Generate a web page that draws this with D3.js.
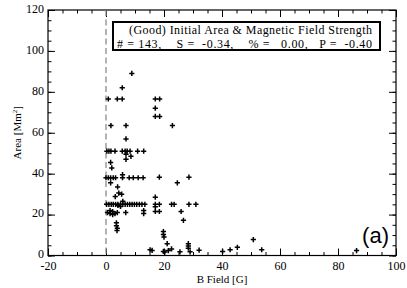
<!DOCTYPE html>
<html>
<head>
<meta charset="utf-8">
<script src="https://cdn.jsdelivr.net/npm/d3@7"></script>
<style>
  html, body { margin: 0; padding: 0; background: #fff; }
  svg { display: block; }
</style>
</head>
<body>
<svg id="chart" width="407" height="288"></svg>
<script>
// ---- data ----
const bField = [
  8.9, 5.6, 0.8, 3.9, 5.6, 17.0, 18.5, 17.0, 17.0, 18.5, 22.9, 1.7, 6.9, 6.9,
  0.3, 1.0, 1.7, 3.1, 5.6, 6.6, 7.3, 8.3, 10.9, 13.0, 6.9, 8.6, 6.9, 1.6, 2.0,
  0.0, 0.8, 1.6, 2.5, 3.3, 5.7, 5.7, 8.0, 9.4, 11.1, 12.8, 18.4, 28.6, 1.6, 24.6,
  4.0, 3.2, 4.4, 5.4, 17.0,
  0.2, 1.0, 1.8, 2.5, 3.3, 4.1, 5.0, 5.8, 6.6, 7.4, 8.2, 9.0, 9.8, 10.6, 11.5, 12.4,
  5.0, 5.8, 4.1, 13.4, 17.0, 18.4, 17.0, 22.6, 23.5, 28.6, 31.0,
  0.5, 1.4, 2.3, 3.1, 3.9, 1.4, 2.3, 6.8, 13.0, 13.0, 17.0, 18.4, 25.9, 26.7,
  3.6, 3.6, 3.9, 3.8,
  19.8, 19.8, 20.0, 21.1, 15.2, 15.9, 19.8, 20.3, 21.5, 22.6, 25.5,
  28.4, 28.4, 28.4, 29.0, 32.1, 40.2, 42.8, 45.3, 50.8, 53.7, 86.4
];
const area = [
  89, 82, 76.5, 76.5, 76.5, 76.5, 76.5, 72, 68, 68, 63.5, 63.5, 63.5, 57,
  51, 51, 51, 51, 51, 51, 51, 51, 51, 51, 49.5, 48.5, 47, 45.5, 42.8,
  38, 38, 38, 38, 38, 39.5, 38, 38, 38, 38, 38, 38.3, 38.3, 35.5, 35.5,
  33.5, 28.8, 30.5, 30, 28.5,
  25, 25, 25, 25, 25, 25, 25, 25, 25, 25, 25, 25, 25, 25, 25, 25,
  24, 26.5, 24.5, 25, 25, 25, 23.8, 25, 25, 25, 25,
  21, 20.5, 21.5, 20.5, 21, 22, 20, 21, 22, 20.5, 21.5, 21.5, 21.5, 17.2,
  16, 14.5, 13.3, 12.2,
  11.7, 10.3, 9.0, 5.8, 2.8, 2.5, 2.0, 1.7, 2.4, 3.2, 1.8,
  5.8, 4.6, 3.6, 1.8, 2.6, 2.0, 2.8, 4.0, 7.8, 2.8, 2.4
];
const xTicks = [-20, 0, 20, 40, 60, 80, 100];
const yTicks = [0, 20, 40, 60, 80, 100, 120];
const titleText = "(Good) Initial Area & Magnetic Field Strength";
const statsText = "# = 143,    S =  -0.34,    % =   0.00,   P =  -0.40";
const panelLabel = "(a)";

// ---- layout ----
const L = 48, R = 396, T = 10, B = 255.5;
const svg = d3.select("#chart");
const x = d3.scaleLinear().domain([-20, 100]).range([L, R]);
const y = d3.scaleLinear().domain([0, 120]).range([B, T]);
const serif = "'Liberation Serif', 'Times New Roman', serif";
const fmt = d => (d < 0 ? "-" + Math.abs(d) : String(d));

function styleAxis(g) {
  g.select(".domain").remove();
  g.selectAll(".tick line").attr("stroke", "#000").attr("stroke-width", 1);
  g.selectAll(".tick text").attr("font-family", serif).attr("font-size", 12).attr("fill", "#000");
}

const xMinor = d3.range(-20, 101, 5);
const yMinor = d3.range(0, 121, 5);

// bottom
svg.append("g").attr("transform", `translate(0,${B})`)
  .call(d3.axisBottom(x).tickValues(xMinor).tickSizeInner(-3.5).tickSizeOuter(0).tickFormat(""))
  .call(styleAxis);
svg.append("g").attr("transform", `translate(0,${B})`)
  .call(d3.axisBottom(x).tickValues(xTicks).tickSizeInner(-7).tickSizeOuter(0).tickPadding(6).tickFormat(fmt))
  .call(styleAxis);
// top
svg.append("g").attr("transform", `translate(0,${T})`)
  .call(d3.axisTop(x).tickValues(xMinor).tickSizeInner(-3.5).tickSizeOuter(0).tickFormat(""))
  .call(styleAxis);
svg.append("g").attr("transform", `translate(0,${T})`)
  .call(d3.axisTop(x).tickValues(xTicks).tickSizeInner(-7).tickSizeOuter(0).tickFormat(""))
  .call(styleAxis);
// left
svg.append("g").attr("transform", `translate(${L},0)`)
  .call(d3.axisLeft(y).tickValues(yMinor).tickSizeInner(-3.5).tickSizeOuter(0).tickFormat(""))
  .call(styleAxis);
const yAx = svg.append("g").attr("transform", `translate(${L},0)`)
  .call(d3.axisLeft(y).tickValues(yTicks).tickSizeInner(-7).tickSizeOuter(0).tickPadding(4).tickFormat(fmt))
  .call(styleAxis);
yAx.selectAll(".tick text").attr("dy", "0.2em");
// right
svg.append("g").attr("transform", `translate(${R},0)`)
  .call(d3.axisRight(y).tickValues(yMinor).tickSizeInner(-3.5).tickSizeOuter(0).tickFormat(""))
  .call(styleAxis);
svg.append("g").attr("transform", `translate(${R},0)`)
  .call(d3.axisRight(y).tickValues(yTicks).tickSizeInner(-7).tickSizeOuter(0).tickFormat(""))
  .call(styleAxis);

// frame
svg.append("rect").attr("x", L).attr("y", T).attr("width", R - L).attr("height", B - T)
  .attr("fill", "none").attr("stroke", "#000").attr("stroke-width", 1.2);

// dashed zero line
svg.append("line").attr("x1", x(0)).attr("x2", x(0)).attr("y1", y(120)).attr("y2", y(0))
  .attr("stroke", "#8c8c8c").attr("stroke-width", 1.3).attr("stroke-dasharray", "6,3.5");

// points
svg.append("g").selectAll("path").data(bField.map((b, i) => [b, area[i]])).join("path")
  .attr("transform", d => `translate(${x(d[0])},${y(d[1])})`)
  .attr("d", "M-2.6,0H2.6M0,-2.6V2.6")
  .attr("stroke", "#000").attr("stroke-width", 1.5).attr("fill", "none");

// legend box
svg.append("rect").attr("x", 113).attr("y", 22).attr("width", 267).attr("height", 28)
  .attr("fill", "#fff").attr("stroke", "#000").attr("stroke-width", 2);
svg.append("text").attr("x", 372).attr("y", 34).attr("text-anchor", "end")
  .attr("font-family", serif).attr("font-size", 12).attr("fill", "#000")
  .attr("textLength", 243).attr("lengthAdjust", "spacing")
  .text(titleText);
svg.append("text").attr("x", 372).attr("y", 47.5).attr("text-anchor", "end")
  .attr("font-family", serif).attr("font-size", 12).attr("fill", "#000")
  .style("white-space", "pre").attr("xml:space", "preserve")
  .attr("textLength", 255).attr("lengthAdjust", "spacing")
  .text(statsText);

// axis titles
svg.append("text").attr("x", (L + R) / 2).attr("y", 283).attr("text-anchor", "middle")
  .attr("font-family", serif).attr("font-size", 11).attr("fill", "#000")
  .text("B Field [G]");
const yt = svg.append("text").attr("transform", `translate(21,${(T + B) / 2}) rotate(-90)`)
  .attr("text-anchor", "middle").attr("font-family", serif).attr("font-size", 11).attr("fill", "#000");
yt.append("tspan").text("Area [Mm");
yt.append("tspan").attr("font-size", 7).attr("dy", -4).text("2");
yt.append("tspan").attr("dy", 4).text("]");

// panel label
svg.append("text").attr("x", 389).attr("y", 243).attr("text-anchor", "end")
  .attr("font-family", "'Liberation Sans', Arial, sans-serif").attr("font-size", 22).attr("fill", "#000")
  .text(panelLabel);
</script>
</body>
</html>
